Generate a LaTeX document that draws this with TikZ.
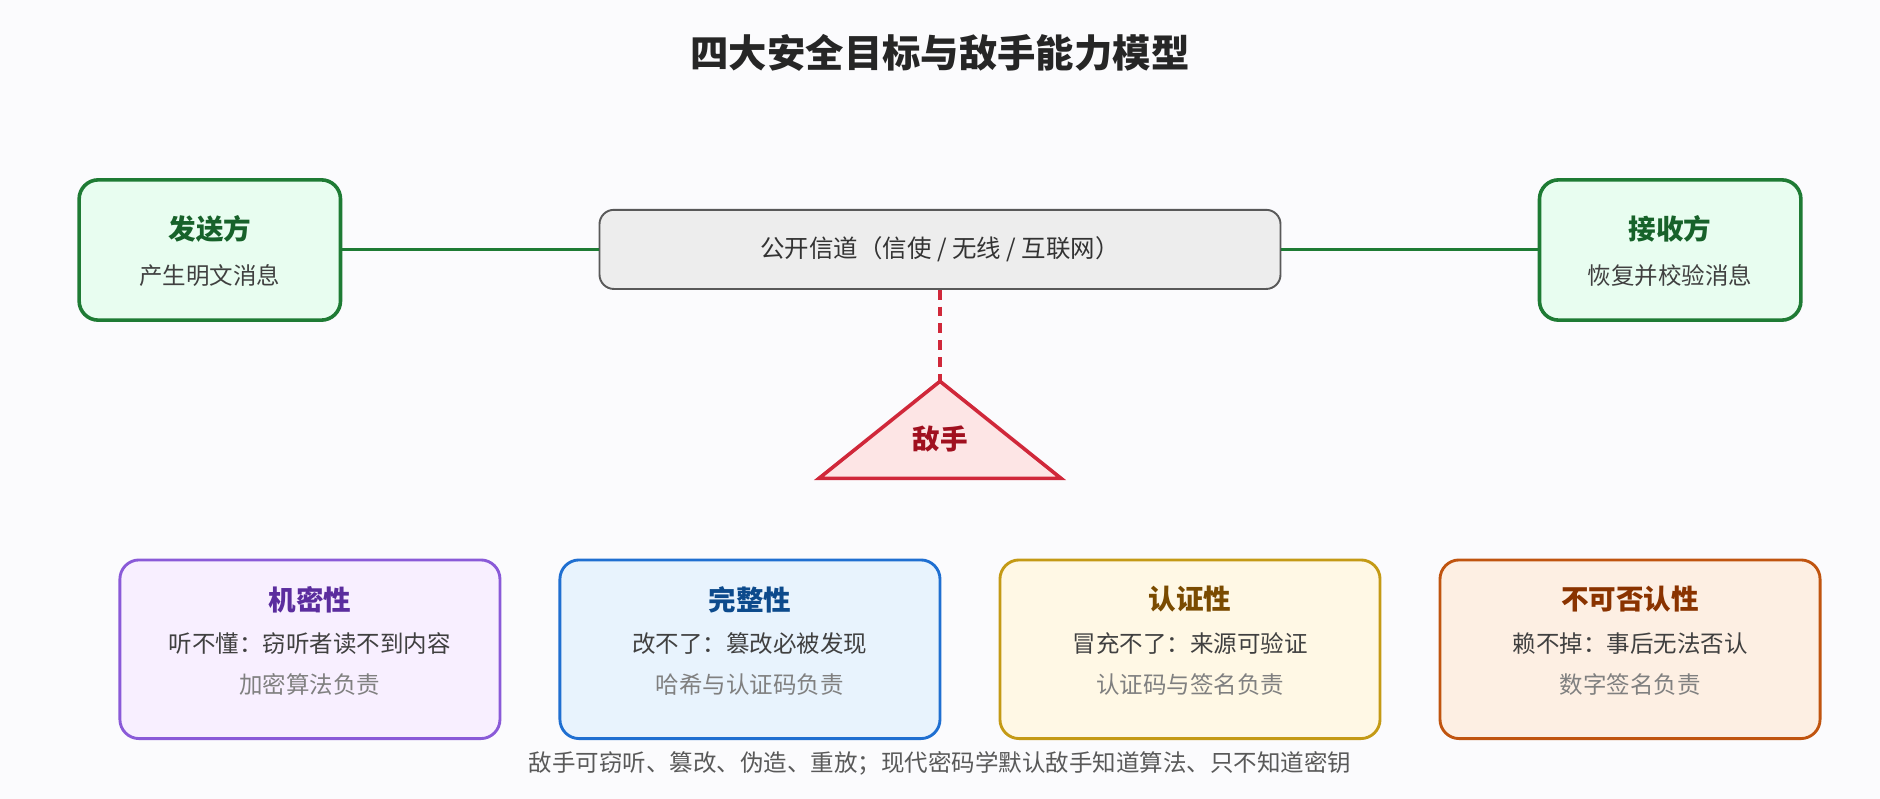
\documentclass[tikz,border=0pt]{standalone}
\usepackage{fontspec}
\setmainfont{Noto Sans CJK SC}
\begin{document}
\begin{tikzpicture}[x=0.5pt,y=-0.5pt,
  box/.style={rounded corners=8pt,line width=1.2pt},
  sub/.style={font=\fontsize{9.8}{11}\selectfont,text=black!75},
  note/.style={font=\fontsize{9.8}{11}\selectfont,text=black!50},
  hd/.style={font=\fontsize{11.5}{13}\selectfont\bfseries}]
\definecolor{bg}{HTML}{FBFBFD}
\definecolor{grn}{HTML}{1E7B34}\definecolor{grnf}{HTML}{E8FDF0}\definecolor{grnt}{HTML}{17622A}
\definecolor{red1}{HTML}{D0283A}\definecolor{redf}{HTML}{FDE5E5}\definecolor{redt}{HTML}{A0101F}
\definecolor{pur}{HTML}{8A5AD8}\definecolor{purf}{HTML}{F8EFFF}\definecolor{purt}{HTML}{5B2D9E}
\definecolor{blu}{HTML}{1F6FD1}\definecolor{bluf}{HTML}{E8F3FD}\definecolor{blut}{HTML}{0C4A8C}
\definecolor{gld}{HTML}{C49A15}\definecolor{gldf}{HTML}{FFF8E5}\definecolor{gldt}{HTML}{7A4B00}
\definecolor{org}{HTML}{C0540F}\definecolor{orgf}{HTML}{FDEFE3}\definecolor{orgt}{HTML}{8A3300}
\fill[bg] (0,0) rectangle (1568,666);
\useasboundingbox (0,0) rectangle (1568,666);
\node[text=black!85] (title) at (784,44) {\fontsize{16}{19}\selectfont\bfseries 四大安全目标与敌手能力模型};
% sender / receiver
\draw[box,grn,fill=grnf,line width=1.5pt] (66,150) rectangle (284,267);
\node[coordinate] (s) at (284,208) {};
\node[hd,text=grnt] (st) at (175,191) {发送方};
\node[sub] (ss) at (175,230) {产生明文消息};
\draw[box,grn,fill=grnf,line width=1.5pt] (1284,150) rectangle (1502,267);
\node[coordinate] (r) at (1284,208) {};
\node[hd,text=grnt] (rt) at (1393,191) {接收方};
\node[sub] (rs) at (1393,230) {恢复并校验消息};
% channel
\node[draw=black!65,fill=black!7,rounded corners=6pt,line width=0.8pt,minimum width=284pt,minimum height=33pt,font=\fontsize{10.2}{12}\selectfont,text=black!80] (ch) at (784,208) {公开信道（信使 / 无线 / 互联网）};
\draw[grn,line width=1.5pt] (s) -- (ch.west);
\draw[grn,line width=1.5pt] (ch.east) -- (r);
% adversary
\coordinate (apex) at (784,318);
\draw[red1,fill=redf,line width=1.5pt] (apex) -- (885,399) -- (683,399) -- cycle;
\node[hd,text=redt] (adv) at (784,366) {敌手};
\draw[red1,line width=1.5pt,dash pattern=on 4pt off 3pt] (ch.south) -- (apex);
% goals
\foreach \x/\c/\t/\a/\b/\d in {100/pur/机密性/听不懂：窃听者读不到内容/加密算法负责,
  467/blu/完整性/改不了：篡改必被发现/哈希与认证码负责,
  834/gld/认证性/冒充不了：来源可验证/认证码与签名负责,
  1201/org/不可否认性/赖不掉：事后无法否认/数字签名负责}{
  \draw[box,draw=\c,fill=\c f] (\x,467) rectangle ++(317,149);
  \node[hd,text=\c t] at (\x+158.5,500) {\t};
  \node[sub] at (\x+158.5,537) {\a};
  \node[note] at (\x+158.5,571) {\b};
}
\node[sub,text=black!65] (foot) at (784,637) {敌手可窃听、篡改、伪造、重放；现代密码学默认敌手知道算法、只不知道密钥};
\end{tikzpicture}
\end{document}
